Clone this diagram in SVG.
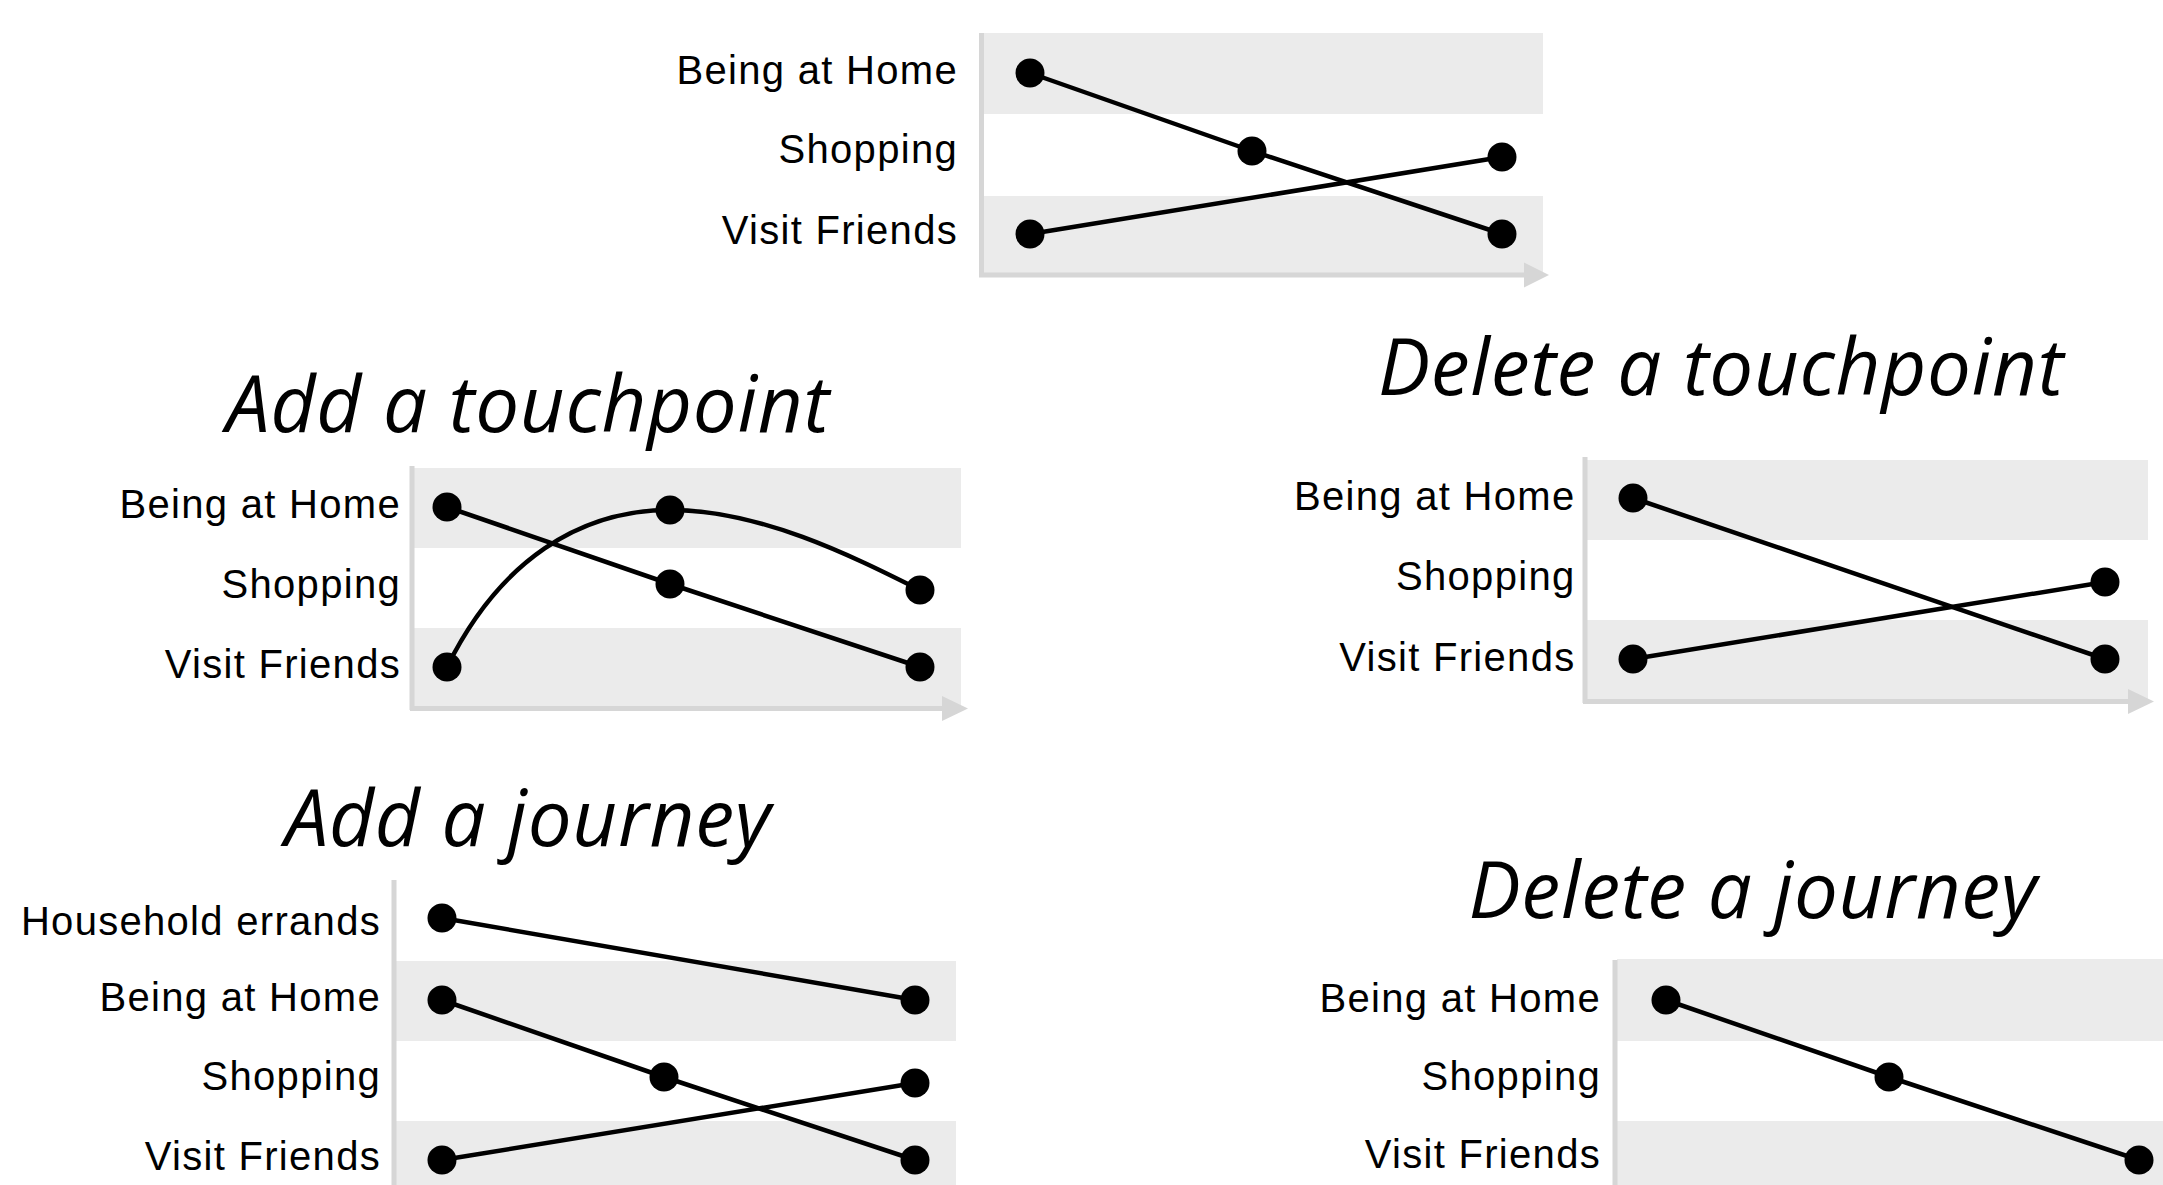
<svg xmlns="http://www.w3.org/2000/svg" width="2163" height="1185" viewBox="0 0 2163 1185">
<style>
.bg{fill:#ffffff}
.band{fill:#ebebeb}
.axis{stroke:#d6d6d6;stroke-width:5;fill:none}
.arrow{fill:#d6d6d6}
.lbl{font-family:"Liberation Sans",Arial,sans-serif;font-size:40px;letter-spacing:1.3px;text-anchor:end;fill:#000}
.title{font-family:"Open Sans",sans-serif;font-style:italic;font-size:78px;letter-spacing:0.7px;text-anchor:middle;fill:#000}
.link{stroke:#000;stroke-width:4.5;fill:none}
.dot{fill:#000}
</style>
<rect class="bg" x="0" y="0" width="2163" height="1185"/>

<!-- Chart A: original -->
<g id="chart-original">
  <rect class="band" x="984" y="33" width="559" height="81"/>
  <rect class="band" x="984" y="196" width="559" height="79"/>
  <line class="axis" x1="981.5" y1="33" x2="981.5" y2="277"/>
  <line class="axis" x1="979" y1="275" x2="1526" y2="275"/>
  <polygon class="arrow" points="1524,262.5 1549,275 1524,287.5"/>
  <text class="lbl" x="958" y="84">Being at Home</text>
  <text class="lbl" x="958" y="163">Shopping</text>
  <text class="lbl" x="958" y="244">Visit Friends</text>
  <g id="A-links">
    <polyline class="link" points="1030,73 1252,151 1502,234"/>
    <polyline class="link" points="1030,234 1502,157"/>
  </g>
  <g id="A-n1"><circle class="dot" cx="1030" cy="73" r="14.5"/></g>
  <g id="A-n2"><circle class="dot" cx="1252" cy="151" r="14.5"/></g>
  <g id="A-n3"><circle class="dot" cx="1502" cy="234" r="14.5"/></g>
  <g id="A-n4"><circle class="dot" cx="1030" cy="234" r="14.5"/></g>
  <g id="A-n5"><circle class="dot" cx="1502" cy="157" r="14.5"/></g>
</g>

<!-- Chart B: Add a touchpoint -->
<g id="chart-add-touchpoint">
  <text class="title" x="528" y="432">Add a touchpoint</text>
  <rect class="band" x="414" y="468" width="547" height="80"/>
  <rect class="band" x="414" y="628" width="547" height="80"/>
  <line class="axis" x1="412" y1="466" x2="412" y2="710"/>
  <line class="axis" x1="410" y1="708.5" x2="944" y2="708.5"/>
  <polygon class="arrow" points="942,696 968,708.5 942,721"/>
  <text class="lbl" x="401" y="518">Being at Home</text>
  <text class="lbl" x="401" y="598">Shopping</text>
  <text class="lbl" x="401" y="678">Visit Friends</text>
  <g id="B-links">
    <polyline class="link" points="447,507 670,584 920,667"/>
    <path class="link" d="M447,667 C500,560 580,510 670,510 C760,510 850,555 920,590"/>
  </g>
  <g id="B-n1"><circle class="dot" cx="447" cy="507" r="14.5"/></g>
  <g id="B-n2"><circle class="dot" cx="670" cy="510" r="14.5"/></g>
  <g id="B-n3"><circle class="dot" cx="670" cy="584" r="14.5"/></g>
  <g id="B-n4"><circle class="dot" cx="920" cy="590" r="14.5"/></g>
  <g id="B-n5"><circle class="dot" cx="447" cy="667" r="14.5"/></g>
  <g id="B-n6"><circle class="dot" cx="920" cy="667" r="14.5"/></g>
</g>

<!-- Chart C: Delete a touchpoint -->
<g id="chart-delete-touchpoint">
  <text class="title" x="1721" y="395">Delete a touchpoint</text>
  <rect class="band" x="1587" y="460" width="561" height="80"/>
  <rect class="band" x="1587" y="620" width="561" height="81"/>
  <line class="axis" x1="1585" y1="457" x2="1585" y2="703"/>
  <line class="axis" x1="1583" y1="701.5" x2="2130" y2="701.5"/>
  <polygon class="arrow" points="2128,689 2154,701.5 2128,714"/>
  <text class="lbl" x="1575.5" y="510">Being at Home</text>
  <text class="lbl" x="1575.5" y="590">Shopping</text>
  <text class="lbl" x="1575.5" y="671">Visit Friends</text>
  <g id="C-links">
    <polyline class="link" points="1633,498 2105,659"/>
    <polyline class="link" points="1633,659 2105,582"/>
  </g>
  <g id="C-n1"><circle class="dot" cx="1633" cy="498" r="14.5"/></g>
  <g id="C-n2"><circle class="dot" cx="2105" cy="659" r="14.5"/></g>
  <g id="C-n3"><circle class="dot" cx="1633" cy="659" r="14.5"/></g>
  <g id="C-n4"><circle class="dot" cx="2105" cy="582" r="14.5"/></g>
</g>

<!-- Chart D: Add a journey -->
<g id="chart-add-journey">
  <text class="title" x="528" y="846">Add a journey</text>
  <rect class="band" x="396" y="961" width="560" height="80"/>
  <rect class="band" x="396" y="1121" width="560" height="80"/>
  <line class="axis" x1="394" y1="880" x2="394" y2="1190"/>
  <text class="lbl" x="381" y="935">Household errands</text>
  <text class="lbl" x="381" y="1011">Being at Home</text>
  <text class="lbl" x="381" y="1090">Shopping</text>
  <text class="lbl" x="381" y="1170">Visit Friends</text>
  <g id="D-links">
    <polyline class="link" points="442,918 915,1000"/>
    <polyline class="link" points="442,1000 664,1077 915,1160"/>
    <polyline class="link" points="442,1160 915,1083"/>
  </g>
  <g id="D-n1"><circle class="dot" cx="442" cy="918" r="14.5"/></g>
  <g id="D-n2"><circle class="dot" cx="915" cy="1000" r="14.5"/></g>
  <g id="D-n3"><circle class="dot" cx="442" cy="1000" r="14.5"/></g>
  <g id="D-n4"><circle class="dot" cx="664" cy="1077" r="14.5"/></g>
  <g id="D-n5"><circle class="dot" cx="915" cy="1083" r="14.5"/></g>
  <g id="D-n6"><circle class="dot" cx="442" cy="1160" r="14.5"/></g>
  <g id="D-n7"><circle class="dot" cx="915" cy="1160" r="14.5"/></g>
</g>

<!-- Chart E: Delete a journey -->
<g id="chart-delete-journey">
  <text class="title" x="1753" y="918">Delete a journey</text>
  <rect class="band" x="1617" y="959" width="546" height="82"/>
  <rect class="band" x="1617" y="1121" width="546" height="80"/>
  <line class="axis" x1="1615" y1="960" x2="1615" y2="1190"/>
  <text class="lbl" x="1601" y="1012">Being at Home</text>
  <text class="lbl" x="1601" y="1090">Shopping</text>
  <text class="lbl" x="1601" y="1168">Visit Friends</text>
  <g id="E-links">
    <polyline class="link" points="1666,1000 1889,1077 2139,1160"/>
  </g>
  <g id="E-n1"><circle class="dot" cx="1666" cy="1000" r="14.5"/></g>
  <g id="E-n2"><circle class="dot" cx="1889" cy="1077" r="14.5"/></g>
  <g id="E-n3"><circle class="dot" cx="2139" cy="1160" r="14.5"/></g>
</g>
</svg>
